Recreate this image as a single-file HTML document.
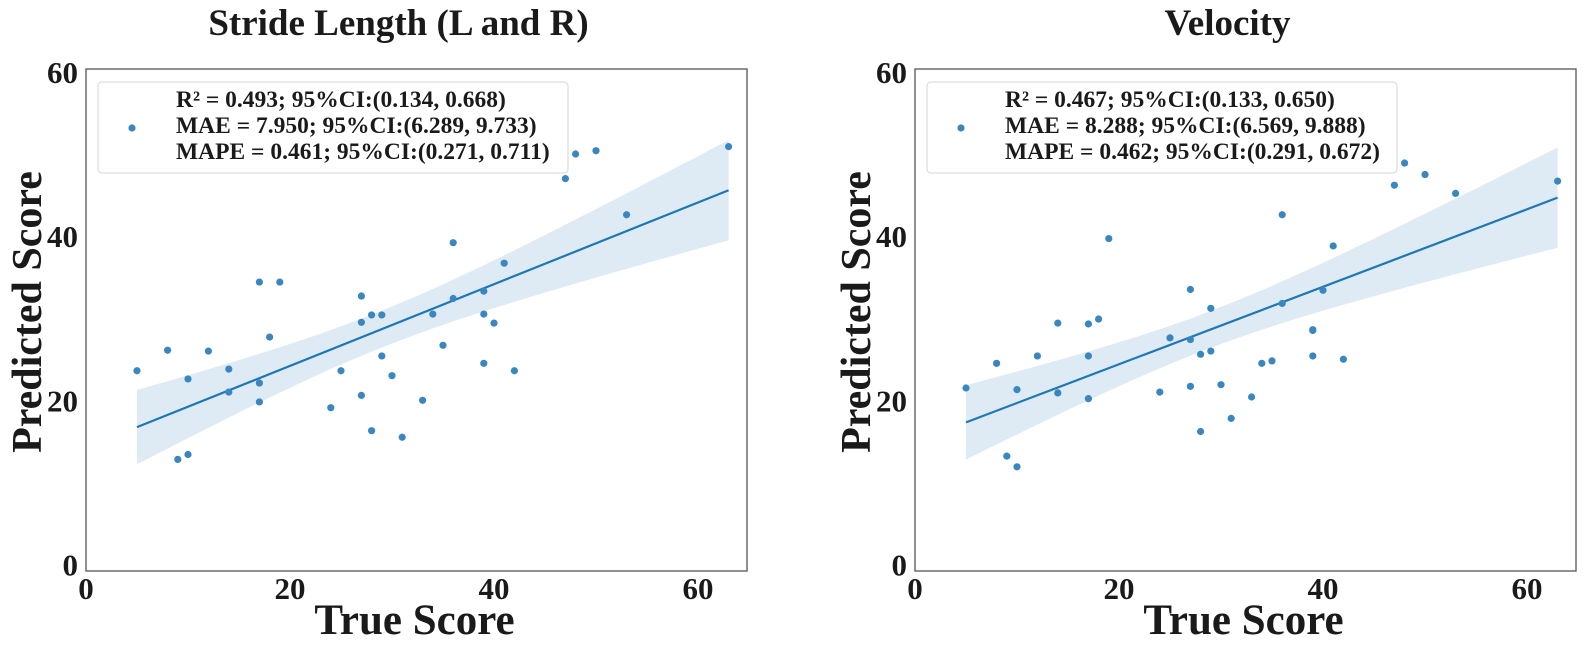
<!DOCTYPE html>
<html><head><meta charset="utf-8"><style>
html,body{margin:0;padding:0;background:#fff}
svg text{font-family:"Liberation Serif",serif;font-weight:bold;fill:#1a1a1a}
</style></head><body>
<svg id="fig" width="1595" height="643" xmlns="http://www.w3.org/2000/svg"></svg>
<script>
// ---- data ----
const strideTrue = [5,8,10,12,14,14,17,17,17,18,19,24,25,27,27,27,28,28,29,29,30,31,33,34,35,36,36,39,39,39,40,41,42,47,48,50,53,63,9,10];
const stridePred = [23.6,26.1,22.6,26.0,23.8,21.0,34.4,22.1,19.8,27.7,34.4,19.1,23.6,32.7,29.5,20.6,30.4,16.3,30.4,25.4,23.0,15.5,20.0,30.5,26.7,39.2,32.4,33.3,30.5,24.5,29.4,36.7,23.6,47.0,50.0,50.4,42.6,50.9,12.8,13.4];
const velTrue = [5,8,10,12,14,14,17,17,17,18,19,24,25,27,27,27,28,28,29,29,30,31,33,34,35,36,36,39,39,39,40,41,42,47,48,50,53,63,9,10];
const velPred = [21.5,24.5,21.3,25.4,29.4,20.9,29.3,25.4,20.2,29.9,39.7,21.0,27.6,33.5,27.4,21.7,25.6,16.2,31.2,26.0,21.9,17.8,20.4,24.5,24.8,42.6,31.8,28.5,25.4,28.6,33.4,38.8,25.0,46.2,48.9,47.5,45.2,46.7,13.2,11.9];
const xTicks = [0,20,40,60];
const yTicks = [0,20,40,60];
const titles = ["Stride Length (L and R)","Velocity"];
const legendLines = [
 ["R\u00B2 = 0.493; 95%CI:(0.134, 0.668)","MAE = 7.950; 95%CI:(6.289, 9.733)","MAPE = 0.461; 95%CI:(0.271, 0.711)"],
 ["R\u00B2 = 0.467; 95%CI:(0.133, 0.650)","MAE = 8.288; 95%CI:(6.569, 9.888)","MAPE = 0.462; 95%CI:(0.291, 0.672)"]
];
// ---- layout ----
const NS="http://www.w3.org/2000/svg";
const svg=document.getElementById('fig');
function mk(tag,attrs,parent){const e=document.createElementNS(NS,tag);for(const k in attrs)e.setAttribute(k,attrs[k]);(parent||svg).appendChild(e);return e;}
const panels=[{x0:86,xs:[strideTrue,stridePred]},{x0:915,xs:[velTrue,velPred]}];
const W=661, TOP=69, BOT=571, PX=10.2, PY=8.21, Y0=564.5;
panels.forEach((p,pi)=>{
  const X=v=>p.x0+v*PX, Y=v=>Y0-v*PY;
  const xs=p.xs[0], ys=p.xs[1], n=xs.length;
  const g=mk('g',{});
  
  
  const mx=xs.reduce((a,b)=>a+b,0)/n, my=ys.reduce((a,b)=>a+b,0)/n;
  let sxx=0,sxy=0;for(let i=0;i<n;i++){sxx+=(xs[i]-mx)**2;sxy+=(xs[i]-mx)*(ys[i]-my);}
  const b=sxy/sxx,a=my-b*mx;
  let sse=0;for(let i=0;i<n;i++)sse+=(ys[i]-a-b*xs[i])**2;
  const s=Math.sqrt(sse/(n-2)), t=2.02;
  const xmin=Math.min(...xs), xmax=Math.max(...xs);
  let up=[],lo=[];
  for(let k=0;k<=60;k++){const xv=xmin+(xmax-xmin)*k/60;const f=a+b*xv;const se=s*Math.sqrt(1/n+(xv-mx)**2/sxx);
    up.push(X(xv).toFixed(1)+','+Y(f+t*se).toFixed(1));lo.unshift(X(xv).toFixed(1)+','+Y(f-t*se).toFixed(1));}
  const band=mk('polygon',{points:up.concat(lo).join(' '),fill:'#1f77b4','fill-opacity':0.15},g);
  
  
  const line=mk('line',{x1:X(xmin),y1:Y(a+b*xmin),x2:X(xmax),y2:Y(a+b*xmax),stroke:'#1f77b4','stroke-width':2.2},g);
  
  
  for(let i=0;i<n;i++){
    const c=mk('circle',{cx:X(xs[i]),cy:Y(ys[i]),r:3.6,fill:'#3a87c0'},g);
    
    
  }
  const box=mk('rect',{x:p.x0,y:TOP,width:W,height:BOT-TOP,fill:'none',stroke:'#555','stroke-width':1.3},g);
  
  
  xTicks.forEach(v=>{const tx=mk('text',{x:X(v),y:599,'font-size':31,'text-anchor':'middle'},g);tx.textContent=v;
    
    });
  yTicks.forEach(v=>{const ty=mk('text',{x:p.x0-8,y:Y(v)+11,'font-size':31,'text-anchor':'end'},g);ty.textContent=v;
    
    });
  const cx=p.x0+W/2-6;
  const ti=mk('text',{x:cx-12,y:35,'font-size':37,'text-anchor':'middle'},g);ti.textContent=titles[pi];
  
  
  const xl=mk('text',{x:cx+4,y:634,'font-size':43,'text-anchor':'middle'},g);xl.textContent='True Score';
  
  
  const yl=mk('text',{x:0,y:0,'font-size':42,'text-anchor':'middle',transform:`translate(${p.x0-45},312) rotate(-90)`},g);yl.textContent='Predicted Score';
  
  
  const lg=mk('g',{},g);
  
  
  mk('rect',{x:p.x0+12,y:82,width:470,height:91,rx:4,fill:'#fff','fill-opacity':0.85,stroke:'#ddd','stroke-width':1.2},lg);
  const lm=mk('circle',{cx:p.x0+46,cy:128,r:3.6,fill:'#3a87c0'},lg);
  
  
  legendLines[pi].forEach((s,k)=>{const lt=mk('text',{x:p.x0+90,y:107+k*26,'font-size':23.5},lg);lt.textContent=s;
    
    });
});
</script>
</body></html>
